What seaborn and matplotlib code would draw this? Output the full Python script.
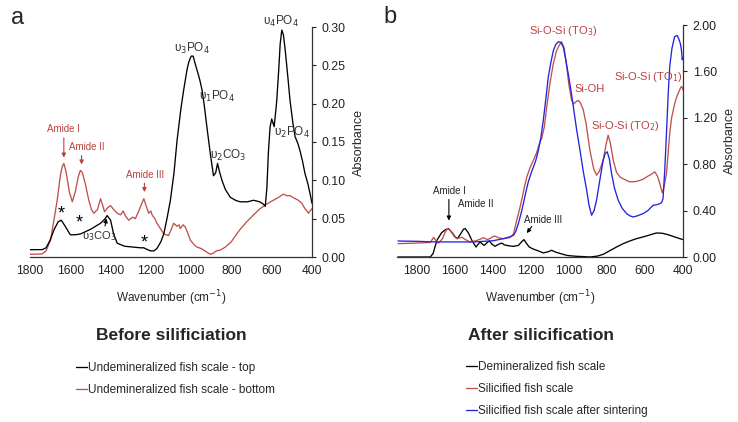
import pandas as pd
import matplotlib.pyplot as plt
import seaborn as sns
from matplotlib.ticker import FormatStrFormatter

sns.set_style("white")
plt.rcParams['font.family'] = ['Liberation Sans', 'DejaVu Sans']

# ---- panel a: before silicification ----
a_top_wn = [1800, 1740, 1720, 1700, 1680, 1660, 1645, 1625, 1600, 1575, 1550, 1500, 1450, 1430,
            1417, 1400, 1385, 1367, 1330, 1290, 1252, 1235, 1220, 1202, 1185, 1170, 1150, 1136,
            1120, 1103, 1085, 1070, 1050, 1037, 1020, 1012, 1000, 990, 980, 971, 958, 946, 935,
            922, 905, 889, 878, 869, 860, 847, 830, 806, 780, 757, 720, 690, 660, 641, 632, 624,
            616, 608, 600, 594, 588, 580, 575, 565, 558, 550, 542, 533, 520, 509, 495, 484, 470,
            460, 447, 435, 420, 410, 400]
a_top_abs = [0.0096, 0.0096, 0.012, 0.022, 0.036, 0.046, 0.048, 0.040, 0.029, 0.029, 0.030, 0.036,
             0.044, 0.049, 0.054, 0.048, 0.030, 0.018, 0.014, 0.013, 0.012, 0.012, 0.010, 0.008,
             0.008, 0.011, 0.020, 0.030, 0.050, 0.074, 0.110, 0.152, 0.195, 0.218, 0.245, 0.254,
             0.262, 0.262, 0.252, 0.244, 0.232, 0.218, 0.198, 0.170, 0.135, 0.106, 0.110, 0.122,
             0.112, 0.100, 0.088, 0.078, 0.074, 0.072, 0.072, 0.074, 0.072, 0.069, 0.066, 0.090,
             0.139, 0.170, 0.180, 0.175, 0.170, 0.190, 0.204, 0.245, 0.278, 0.296, 0.290, 0.270,
             0.235, 0.204, 0.175, 0.157, 0.148, 0.139, 0.125, 0.109, 0.095, 0.083, 0.070]

a_bot_wn = [1800, 1740, 1720, 1698, 1680, 1665, 1650, 1640, 1632, 1620, 1605, 1590, 1575, 1560,
            1550, 1540, 1525, 1508, 1495, 1483, 1465, 1450, 1440, 1430, 1415, 1400, 1385, 1367,
            1350, 1338, 1325, 1310, 1290, 1277, 1260, 1245, 1235, 1225, 1211, 1200, 1194, 1180,
            1170, 1150, 1136, 1112, 1100, 1087, 1070, 1060, 1054, 1040, 1029, 1015, 1004, 985,
            971, 950, 938, 920, 905, 890, 875, 856, 830, 800, 790, 760, 724, 690, 658, 625, 592,
            565, 542, 525, 509, 490, 468, 450, 435, 425, 418, 410, 400]
a_bot_abs = [0.0035, 0.004, 0.008, 0.022, 0.050, 0.074, 0.105, 0.118, 0.122, 0.110, 0.085, 0.072,
             0.085, 0.105, 0.113, 0.110, 0.095, 0.074, 0.062, 0.057, 0.062, 0.076, 0.068, 0.059,
             0.064, 0.067, 0.062, 0.057, 0.055, 0.060, 0.053, 0.048, 0.052, 0.050, 0.060, 0.070,
             0.076, 0.068, 0.057, 0.060, 0.055, 0.050, 0.044, 0.036, 0.030, 0.028, 0.035, 0.044,
             0.040, 0.042, 0.037, 0.042, 0.039, 0.030, 0.022, 0.016, 0.013, 0.011, 0.009, 0.006,
             0.0035, 0.005, 0.008, 0.009, 0.013, 0.020, 0.024, 0.035, 0.046, 0.055, 0.063, 0.069,
             0.074, 0.078, 0.082, 0.080, 0.080, 0.077, 0.074, 0.070, 0.063, 0.060, 0.057, 0.060,
             0.063]

# ---- panel b: after silicification ----
b_dem_wn = [1900, 1730, 1715, 1695, 1670, 1650, 1634, 1615, 1600, 1587, 1570, 1555, 1546, 1530,
            1511, 1489, 1478, 1467, 1455, 1446, 1430, 1419, 1405, 1389, 1370, 1354, 1340, 1328,
            1310, 1292, 1266, 1250, 1237, 1225, 1209, 1190, 1170, 1150, 1135, 1110, 1091, 1075,
            1056, 1035, 1012, 990, 960, 930, 890, 850, 820, 790, 750, 715, 680, 645, 610, 575,
            540, 510, 487, 465, 444, 420, 400]
b_dem_abs = [0.0, 0.0, 0.03, 0.144, 0.21, 0.235, 0.245, 0.21, 0.175, 0.158, 0.20, 0.24, 0.245,
             0.21, 0.144, 0.086, 0.11, 0.13, 0.11, 0.10, 0.125, 0.138, 0.11, 0.092, 0.11, 0.12,
             0.105, 0.10, 0.095, 0.092, 0.10, 0.13, 0.15, 0.12, 0.086, 0.07, 0.058, 0.045, 0.035,
             0.045, 0.058, 0.045, 0.035, 0.025, 0.014, 0.01, 0.006, 0.004, 0.0, 0.008, 0.023, 0.05,
             0.086, 0.115, 0.138, 0.158, 0.173, 0.19, 0.207, 0.205, 0.196, 0.185, 0.173, 0.16,
             0.15]

b_sil_wn = [1900, 1800, 1730, 1712, 1700, 1686, 1665, 1650, 1639, 1625, 1605, 1590, 1575, 1564,
            1545, 1520, 1490, 1465, 1450, 1430, 1415, 1400, 1389, 1370, 1345, 1320, 1310, 1292,
            1275, 1262, 1249, 1235, 1222, 1205, 1187, 1170, 1161, 1150, 1144, 1130, 1117, 1100,
            1082, 1065, 1050, 1039, 1025, 1012, 1000, 986, 974, 962, 951, 940, 925, 910, 890,
            870, 855, 840, 820, 805, 794, 782, 767, 750, 732, 710, 680, 650, 627, 610, 592, 570,
            549, 535, 522, 515, 509, 500, 487, 478, 470, 460, 444, 435, 426, 415, 409, 403, 400]
b_sil_abs = [0.115, 0.12, 0.125, 0.17, 0.14, 0.12, 0.16, 0.22, 0.245, 0.23, 0.18, 0.158, 0.165,
             0.17, 0.15, 0.13, 0.14, 0.155, 0.167, 0.15, 0.16, 0.175, 0.18, 0.165, 0.158, 0.165,
             0.167, 0.2, 0.317, 0.40, 0.49, 0.60, 0.69, 0.77, 0.835, 0.90, 0.95, 1.00, 1.02, 1.12,
             1.295, 1.50, 1.67, 1.78, 1.83, 1.856, 1.80, 1.64, 1.48, 1.35, 1.32, 1.34, 1.35, 1.33,
             1.27, 1.15, 0.92, 0.76, 0.705, 0.74, 0.835, 0.97, 1.05, 0.98, 0.835, 0.73, 0.69,
             0.67, 0.648, 0.65, 0.66, 0.67, 0.69, 0.71, 0.734, 0.70, 0.633, 0.59, 0.553, 0.60,
             0.72, 0.90, 1.065, 1.20, 1.32, 1.37, 1.41, 1.45, 1.47, 1.46, 1.44]

b_sin_wn = [1900, 1800, 1700, 1600, 1500, 1400, 1345, 1310, 1292, 1280, 1266, 1253, 1240, 1227,
            1214, 1200, 1187, 1175, 1161, 1148, 1135, 1122, 1109, 1095, 1082, 1070, 1056, 1043,
            1030, 1018, 1004, 990, 977, 960, 942, 925, 907, 895, 881, 868, 855, 838, 820, 810,
            799, 788, 776, 760, 741, 720, 697, 680, 662, 640, 610, 585, 557, 540, 522, 512, 505,
            496, 487, 478, 470, 458, 444, 431, 422, 414, 408, 404, 400]
b_sin_abs = [0.138, 0.135, 0.13, 0.13, 0.13, 0.14, 0.158, 0.175, 0.187, 0.22, 0.29, 0.37, 0.46,
             0.56, 0.648, 0.72, 0.777, 0.83, 0.92, 1.03, 1.18, 1.36, 1.55, 1.68, 1.78, 1.83, 1.856,
             1.85, 1.81, 1.71, 1.58, 1.44, 1.295, 1.10, 0.92, 0.74, 0.576, 0.45, 0.36, 0.40, 0.49,
             0.66, 0.835, 0.89, 0.907, 0.85, 0.72, 0.59, 0.49, 0.42, 0.374, 0.355, 0.345, 0.355,
             0.374, 0.40, 0.446, 0.45, 0.46, 0.47, 0.504, 0.75, 1.065, 1.40, 1.64, 1.80, 1.90,
             1.91, 1.88, 1.84, 1.78, 1.70, 1.72]

a_labels = ['Undemineralized fish scale - top', 'Undemineralized fish scale - bottom']
b_labels = ['Demineralized fish scale', 'Silicified fish scale', 'Silicified fish scale after sintering']

RED = '#c0504d'
TXT_RED = '#b8423f'
BLUE = '#2323e0'


def long_df(parts):
    frames = [pd.DataFrame({'wavenumber': wn, 'absorbance': ab, 'sample': name}) for wn, ab, name in parts]
    return pd.concat(frames, ignore_index=True)


df_a = long_df([(a_bot_wn, a_bot_abs, a_labels[1]), (a_top_wn, a_top_abs, a_labels[0])])
df_b = long_df([(b_dem_wn, b_dem_abs, b_labels[0]), (b_sil_wn, b_sil_abs, b_labels[1]),
                (b_sin_wn, b_sin_abs, b_labels[2])])

fig = plt.figure(figsize=(7.38, 4.22), dpi=100)
ax_a = fig.add_axes([30 / 738, 1 - 257 / 422, 282 / 738, 230 / 422])
ax_b = fig.add_axes([397 / 738, 1 - 257 / 422, 286 / 738, 232 / 422])

sns.lineplot(data=df_a, x='wavenumber', y='absorbance', hue='sample', sort=False,
             palette={a_labels[0]: 'black', a_labels[1]: RED}, lw=0.95, ax=ax_a)
sns.lineplot(data=df_b, x='wavenumber', y='absorbance', hue='sample', sort=False,
             palette={b_labels[0]: 'black', b_labels[1]: RED, b_labels[2]: BLUE}, lw=0.95, ax=ax_b)

ax_a.set_xlim(1800, 400)
ax_a.set_ylim(0, 0.30)
ax_a.set_xticks(range(1800, 399, -200))
ax_a.set_yticks([0, 0.05, 0.10, 0.15, 0.20, 0.25, 0.30])
ax_b.set_xlim(1905, 400)
ax_b.set_ylim(0, 2.0)
ax_b.set_xticks(range(1800, 399, -200))
ax_b.set_yticks([0, 0.4, 0.8, 1.2, 1.6, 2.0])

for ax in (ax_a, ax_b):
    ax.yaxis.set_major_formatter(FormatStrFormatter('%.2f'))
    ax.spines['left'].set_visible(False)
    ax.spines['top'].set_visible(False)
    for s in ('right', 'bottom'):
        ax.spines[s].set_color('#333333')
        ax.spines[s].set_linewidth(0.9)
    ax.yaxis.tick_right()
    ax.yaxis.set_label_position('right')
    ax.tick_params(axis='y', direction='out', length=3, width=0.8, labelsize=8.9,
                   colors='#222222', pad=4)
    ax.tick_params(axis='x', direction='in', length=3, width=0.8, labelsize=8.7,
                   colors='#222222', pad=6)
    ax.set_xlabel('Wavenumber (cm$^{-1}$)', fontsize=8.5, labelpad=8)
    ax.set_ylabel('Absorbance', fontsize=9, labelpad=5)
    handles, labels = ax.get_legend_handles_labels()
    order = [labels.index(l) for l in (a_labels if ax is ax_a else b_labels)]
    ax.legend([handles[i] for i in order], [labels[i] for i in order],
              loc='upper left',
              bbox_to_anchor=((76 - 30) / 282, (257 - 362) / 230) if ax is ax_a
              else ((466 - 397) / 286, (257 - 361) / 232),
              frameon=False, fontsize=8.5, handlelength=0.9, handletextpad=0.1,
              labelspacing=0.85, borderaxespad=0, borderpad=0)

# panel a annotations
ann = dict(fontsize=8.5, color='#333333', ha='center', va='center')
ax_a.text(996, 0.272, 'υ$_3$PO$_4$', **ann)
ax_a.text(872, 0.209, 'υ$_1$PO$_4$', **ann)
ax_a.text(817, 0.133, 'υ$_2$CO$_3$', **ann)
ax_a.text(554, 0.307, 'υ$_4$PO$_4$', **ann)
ax_a.text(499, 0.162, 'υ$_2$PO$_4$', **ann)
ax_a.text(1455, 0.027, 'υ$_3$CO$_3$', fontsize=8, color='#333333', ha='center', va='center')
ax_a.annotate('', xy=(1418, 0.054), xytext=(1430, 0.037),
              arrowprops=dict(arrowstyle='-|>', color='black', lw=0.8, mutation_scale=6))
for wn, ab in [(1645, 0.0555), (1555, 0.044), (1235, 0.018)]:
    ax_a.text(wn, ab, '*', fontsize=13, ha='center', va='center', color='black')
red_ann = dict(fontsize=7, color=TXT_RED, ha='center', va='center')
arr_red = dict(arrowstyle='-|>', color=TXT_RED, lw=0.8, mutation_scale=6)
ax_a.text(1632, 0.167, 'Amide I', **red_ann)
ax_a.annotate('', xy=(1632, 0.126), xytext=(1632, 0.159), arrowprops=arr_red)
ax_a.text(1520, 0.144, 'Amide II', **red_ann)
ax_a.annotate('', xy=(1544, 0.117), xytext=(1544, 0.136), arrowprops=arr_red)
ax_a.text(1227, 0.107, 'Amide III', **red_ann)
ax_a.annotate('', xy=(1232, 0.081), xytext=(1232, 0.100), arrowprops=arr_red)

# panel b annotations
si_ann = dict(fontsize=8, color=TXT_RED, ha='center', va='center')
ax_b.text(1030, 1.945, 'Si-O-Si (TO$_3$)', **si_ann)
ax_b.text(894, 1.445, 'Si-OH', **si_ann)
ax_b.text(584, 1.548, 'Si-O-Si (TO$_1$)', **si_ann)
ax_b.text(706, 1.128, 'Si-O-Si (TO$_2$)', **si_ann)
blk_ann = dict(fontsize=7, color='#222222', ha='center', va='center')
arr_blk = dict(arrowstyle='-|>', color='black', lw=0.8, mutation_scale=6)
ax_b.text(1628, 0.57, 'Amide I', **blk_ann)
ax_b.annotate('', xy=(1632, 0.29), xytext=(1632, 0.52), arrowprops=arr_blk)
ax_b.text(1489, 0.46, 'Amide II', **blk_ann)
ax_b.text(1135, 0.322, 'Amide III', **blk_ann)
ax_b.annotate('', xy=(1231, 0.187), xytext=(1187, 0.282), arrowprops=arr_blk)

fig.text(18 / 738, 1 - 18 / 422, 'a', fontsize=17, ha='center', va='center')
fig.text(390 / 738, 1 - 17 / 422, 'b', fontsize=17, ha='center', va='center')
fig.text(171 / 738, 1 - 336 / 422, 'Before silificiation', fontsize=12.5, fontweight='bold',
         ha='center', va='center')
fig.text(541 / 738, 1 - 335 / 422, 'After silicification', fontsize=12.5, fontweight='bold',
         ha='center', va='center')

fig.savefig('out.png', dpi=100)
